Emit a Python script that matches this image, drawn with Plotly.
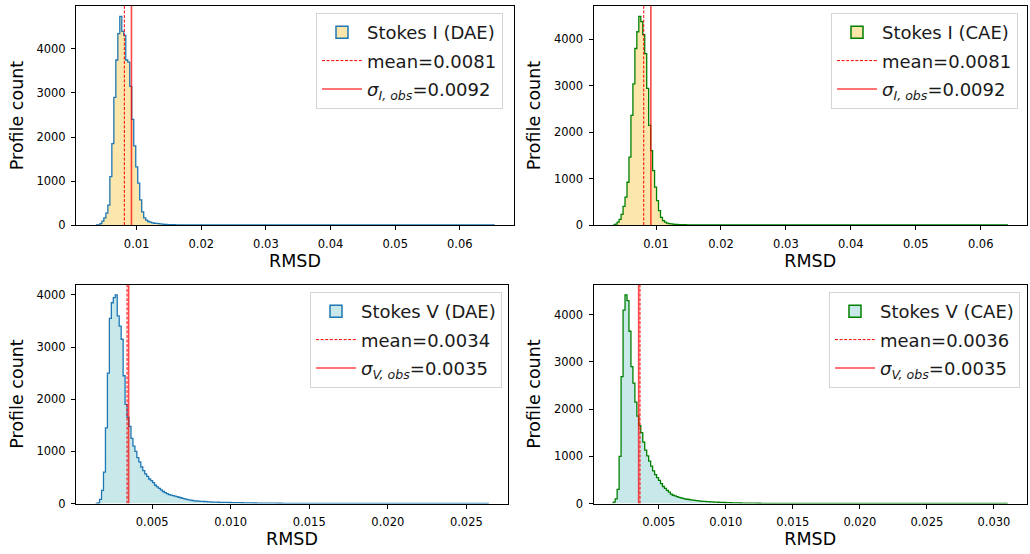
import plotly.graph_objects as go

# ---------------- data ----------------
# Each panel: 200 histogram bins between data_min and data_max (counts listed from the first bin;
# bins not listed are empty except where a tail count is given).
i_dae_range = [0.0037, 0.0653]
i_dae_counts = [0, 0, 30, 90, 160, 270, 450, 1100, 1850, 2900,
                3750, 4350, 4740, 4400, 4310, 3750, 3700, 3150, 2400, 1800,
                1320, 950, 570, 300, 160, 110, 80, 65, 50, 40,
                35, 30, 25, 20, 15, 12, 10, 8, 6, 6,
                5, 4, 0, 3, 0, 2]
i_dae_tail = {199: 1}
i_dae_mean, i_dae_sigma = 0.0081, 0.0092

i_cae_range = [0.0034, 0.0641]
i_cae_counts = [0, 20, 60, 120, 230, 400, 600, 920, 1460, 2360,
                3040, 3800, 4160, 4490, 4380, 4100, 3690, 2940, 2145, 1600,
                1170, 815, 525, 310, 165, 95, 60, 40, 30, 25,
                20, 15, 12, 10, 8, 6, 5, 4, 3, 3,
                2, 2]
i_cae_tail = {199: 1}
i_cae_mean, i_cae_sigma = 0.0081, 0.0092

v_dae_range = [0.0014, 0.0264]
v_dae_counts = [0, 10, 80, 250, 600, 1450, 2500, 3550, 3850, 3950,
                4000, 3600, 3400, 3150, 2450, 1900, 1650, 1480, 1250, 1100,
                1000, 880, 800, 700, 630, 570, 520, 470, 440, 400,
                350, 320, 290, 260, 230, 210, 190, 170, 160, 150,
                140, 130, 120, 110, 100, 90, 80, 70, 65, 58,
                52, 48, 45, 42, 40, 38, 35, 33, 30, 28,
                27, 25, 24, 23, 22, 21, 20, 20, 19, 18,
                17, 16, 15, 15, 14, 13, 13, 12, 12, 11,
                10, 10, 9, 9, 8, 8, 8, 7, 7, 6,
                6, 6, 5, 5, 5, 4, 4, 4, 3, 3, 3]
v_dae_tail = {107: 2, 137: 2, 199: 1}
v_dae_mean, v_dae_sigma = 0.0034, 0.0035

v_cae_range = [0.0016, 0.0310]
v_cae_counts = [30, 100, 300, 1000, 2690, 4100, 4420, 4300, 3650, 2900,
                2550, 2150, 1850, 1650, 1500, 1300, 1130, 1010, 900, 790,
                690, 610, 550, 490, 420, 360, 320, 280, 240, 200,
                175, 160, 145, 130, 120, 110, 100, 90, 85, 78,
                72, 66, 60, 55, 50, 47, 44, 41, 38, 35,
                33, 31, 29, 27, 25, 23, 21, 20, 18, 17,
                15, 14, 13, 12, 11, 10, 9, 8, 8, 7,
                7, 6, 6, 5, 5, 4, 4, 3, 3, 3,
                2, 2, 0, 2, 1, 0, 1, 2, 0, 1,
                0, 1, 0, 0, 1, 0, 0, 0, 1]
v_cae_tail = {199: 1}
v_cae_mean, v_cae_sigma = 0.0036, 0.0035

top_ticks = [0.01, 0.02, 0.03, 0.04, 0.05, 0.06]
top_ticktext = ["0.01", "0.02", "0.03", "0.04", "0.05", "0.06"]
bl_ticks = [0.005, 0.010, 0.015, 0.020, 0.025]
bl_ticktext = ["0.005", "0.010", "0.015", "0.020", "0.025"]
br_ticks = [0.005, 0.010, 0.015, 0.020, 0.025, 0.030]
br_ticktext = ["0.005", "0.010", "0.015", "0.020", "0.025", "0.030"]
y_ticks = [0, 1000, 2000, 3000, 4000]

N_BINS = 200
FONT = "DejaVu Sans"
YELLOW = "#fce6ab"
CYAN = "#c8e8ea"
BLUE = "#1f77b4"
GREEN = "#008000"

panels = [
    dict(rng=i_dae_range, counts=i_dae_counts, tail=i_dae_tail, mean=i_dae_mean, sigma=i_dae_sigma,
         fill=YELLOW, edge=BLUE, name="Stokes I (DAE)", sub="I, obs",
         ticks=top_ticks, ticktext=top_ticktext,
         xdom=[76 / 1030, 514 / 1030], ydom=[1 - 225 / 554, 1 - 6 / 554],
         leg=(503 / 1030, 1 - 13 / 554)),
    dict(rng=i_cae_range, counts=i_cae_counts, tail=i_cae_tail, mean=i_cae_mean, sigma=i_cae_sigma,
         fill=YELLOW, edge=GREEN, name="Stokes I (CAE)", sub="I, obs",
         ticks=top_ticks, ticktext=top_ticktext,
         xdom=[593.5 / 1030, 1027 / 1030], ydom=[1 - 225 / 554, 1 - 6 / 554],
         leg=(1018 / 1030, 1 - 13 / 554)),
    dict(rng=v_dae_range, counts=v_dae_counts, tail=v_dae_tail, mean=v_dae_mean, sigma=v_dae_sigma,
         fill=CYAN, edge=BLUE, name="Stokes V (DAE)", sub="V, obs",
         ticks=bl_ticks, ticktext=bl_ticktext,
         xdom=[76 / 1030, 508 / 1030], ydom=[1 - 503.5 / 554, 1 - 284.5 / 554],
         leg=(502 / 1030, 1 - 292 / 554)),
    dict(rng=v_cae_range, counts=v_cae_counts, tail=v_cae_tail, mean=v_cae_mean, sigma=v_cae_sigma,
         fill=CYAN, edge=GREEN, name="Stokes V (CAE)", sub="V, obs",
         ticks=br_ticks, ticktext=br_ticktext,
         xdom=[593.5 / 1030, 1027 / 1030], ydom=[1 - 503.5 / 554, 1 - 284.5 / 554],
         leg=(1020 / 1030, 1 - 292 / 554)),
]

fig = go.Figure()
layout = {}

for k, p in enumerate(panels):
    sfx = "" if k == 0 else str(k + 1)
    xa, ya = "x" + sfx, "y" + sfx
    legname = "legend" + sfx
    lo, hi = p["rng"]
    width = (hi - lo) / N_BINS
    counts = list(p["counts"]) + [0] * (N_BINS - len(p["counts"]))
    for idx, val in p["tail"].items():
        counts[idx] = val
    edges = [lo + width * i for i in range(N_BINS + 1)]
    sx = [edges[0]] + edges[:N_BINS] + [edges[N_BINS]]
    sy = [0] + counts + [0]
    ymax = 1.05 * max(counts)
    span = hi - lo

    # filled step histogram
    fig.add_trace(go.Scatter(x=sx, y=sy, mode="lines", line=dict(shape="hv", width=0),
                             fill="tozeroy", fillcolor=p["fill"], showlegend=False,
                             hoverinfo="skip", xaxis=xa, yaxis=ya))
    fig.add_trace(go.Scatter(x=sx, y=sy, mode="lines", line=dict(shape="hv", width=1.3, color=p["edge"]),
                             showlegend=False, xaxis=xa, yaxis=ya))
    # legend patch for the histogram
    fig.add_trace(go.Bar(x=[None], y=[None], name=p["name"],
                         marker=dict(color=p["fill"], line=dict(color=p["edge"], width=1.5)),
                         legend=legname, legendgroup=f"h{k}", xaxis=xa, yaxis=ya))
    fig.add_trace(go.Scatter(x=[p["mean"], p["mean"]], y=[0, ymax], mode="lines",
                             line=dict(color="red", width=1, dash="3px,1.6px"),
                             name=f"mean={p['mean']:.4f}", legend=legname, legendgroup=f"m{k}",
                             xaxis=xa, yaxis=ya))
    fig.add_trace(go.Scatter(x=[p["sigma"], p["sigma"]], y=[0, ymax], mode="lines",
                             line=dict(color="rgba(255,0,0,0.72)", width=1.6),
                             name=f"<i>σ</i><sub><i>{p['sub']}</i></sub>={p['sigma']:.4f}",
                             legend=legname, legendgroup=f"s{k}", xaxis=xa, yaxis=ya))

    axis_common = dict(showline=True, linecolor="black", linewidth=1, mirror=True,
                       ticks="outside", ticklen=4, tickwidth=1, tickcolor="black",
                       showgrid=False, zeroline=False, automargin=False,
                       tickfont=dict(family=FONT, size=11.5, color="black"))
    layout["xaxis" + sfx] = dict(axis_common, domain=p["xdom"], anchor=ya,
                                 range=[lo - 0.05 * span, hi + 0.05 * span],
                                 tickvals=p["ticks"], ticktext=p["ticktext"],
                                 ticklabelstandoff=4,
                                 title=dict(text="RMSD", font=dict(family=FONT, size=17.5, color="black"),
                                            standoff=4))
    layout["yaxis" + sfx] = dict(axis_common, domain=p["ydom"], anchor=xa,
                                 range=[0, ymax], tickvals=y_ticks,
                                 ticktext=[str(v) for v in y_ticks],
                                 ticklabelstandoff=3,
                                 title=dict(text="Profile count", font=dict(family=FONT, size=17.5, color="black"),
                                            standoff=8))
    layout[legname] = dict(x=p["leg"][0], y=p["leg"][1], xanchor="right", yanchor="top",
                           xref="paper", yref="paper",
                           bgcolor="rgba(255,255,255,0.85)", bordercolor="#d5d5d5", borderwidth=1,
                           font=dict(family=FONT, size=18, color="#1a1a1a"),
                           tracegroupgap=2, itemwidth=40, traceorder="grouped")

fig.update_layout(**layout)
fig.update_layout(width=1030, height=554, margin=dict(l=0, r=0, t=0, b=0),
                  plot_bgcolor="white", paper_bgcolor="white", showlegend=True,
                  font=dict(family=FONT))
fig.write_html("out.html", config={"displayModeBar": False},
               post_script="document.body.style.margin='0';document.body.style.padding='0';")
